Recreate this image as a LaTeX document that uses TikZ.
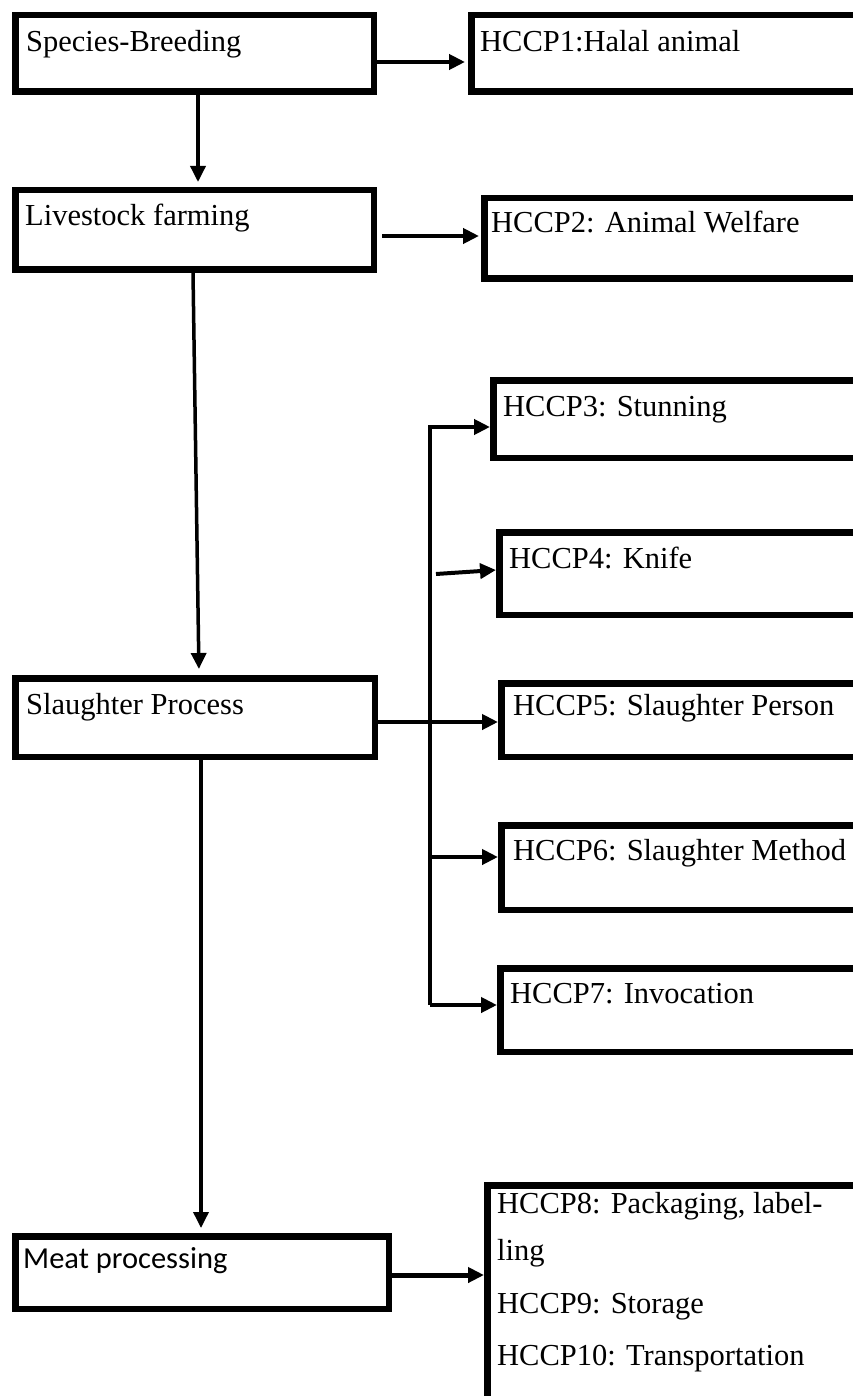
\documentclass[tikz,border=0pt]{standalone}
\usepackage{fontspec}
\setmainfont{Liberation Serif}
\newfontfamily\carlito{Carlito}
\usetikzlibrary{arrows.meta}

\begin{document}
\begin{tikzpicture}[x=1pt, y=-1pt,
  box/.style={draw, line width=6.5pt, inner sep=0pt},
  lbl/.style={anchor=base west, inner sep=0pt, font=\fontsize{30.5}{36}\selectfont},
  arr/.style={line width=4pt, -{Triangle[length=16pt, width=15pt]}},
  link/.style={line width=4pt}]

  % page
  \fill[white] (0,0) rectangle (853,1396);
  \useasboundingbox (0,0) rectangle (853,1396);

  % main chain of stages
  \node[box, minimum width=358.5pt, minimum height=76.5pt] (sb) at (194.5,53.5) {};
  \node[box, minimum width=358.5pt, minimum height=79.5pt] (lf) at (194.5,230) {};
  \node[box, minimum width=359.5pt, minimum height=78.5pt] (sp) at (195,717.5) {};
  \node[box, minimum width=373.5pt, minimum height=72.5pt] (mp) at (202,1272.5) {};

  \node[lbl] (sbt) at (26,52) {Species-Breeding};
  \node[lbl] (lft) at (25,226) {Livestock farming};
  \node[lbl] (spt) at (26,714) {Slaughter Process};
  \node[lbl, font=\carlito\fontsize{30.5}{36}\selectfont] (mpt) at (23,1268) {Meat processing};

  % control points
  \node[box, minimum width=405.5pt, minimum height=76.5pt] (h1) at (674,53.5) {};
  \node[box, minimum width=392.5pt, minimum height=80.5pt] (h2) at (680.5,238.5) {};
  \node[box, minimum width=383.5pt, minimum height=77.5pt] (h3) at (685,419) {};
  \node[box, minimum width=377.5pt, minimum height=82.5pt] (h4) at (688,573.5) {};
  \node[box, minimum width=375.5pt, minimum height=73.5pt] (h5) at (689,720) {};
  \node[box, minimum width=375.5pt, minimum height=84.5pt] (h6) at (689,867.5) {};
  \node[box, minimum width=376.5pt, minimum height=83.5pt] (h7) at (688.5,1010) {};
  \node[box, minimum width=389.5pt, minimum height=231.5pt] (h8) at (682,1301) {};

  \node[lbl] (h1t) at (480,52) {HCCP1:Halal animal};
  \node[lbl] (h2t) at (491,233) {HCCP2: Animal Welfare};
  \node[lbl] (h3t) at (503,416) {HCCP3: Stunning};
  \node[lbl] (h4t) at (509,568) {HCCP4: Knife};
  \node[lbl] (h5t) at (513,715) {HCCP5: Slaughter Person};
  \node[lbl] (h6t) at (513,860) {HCCP6: Slaughter Method};
  \node[lbl] (h7t) at (510,1003) {HCCP7: Invocation};
  \node[lbl] (h8a) at (497,1213) {HCCP8: Packaging, label-};
  \node[lbl] (h8b) at (497,1260) {ling};
  \node[lbl] (h8c) at (497,1313) {HCCP9: Storage};
  \node[lbl] (h8d) at (497,1365) {HCCP10: Transportation};

  % flow downwards
  \draw[arr, line width=3.5pt, shorten >=5pt] (sb.south -| 198,0) -- (lf.north -| 198,0);
  \draw[arr, line width=3.5pt, shorten >=6pt] (lf.south -| 193,0) -- (sp.north -| 199,0);
  \draw[arr, line width=3.5pt, shorten >=5pt] (sp.south -| 201,0) -- (mp.north -| 201,0);

  % links to control points
  \draw[arr, shorten >=3pt] (sb.east |- 0,62) -- (h1.west |- 0,62);
  \draw[arr, shorten <=5pt, shorten >=2pt] (lf.east |- 0,236) -- (h2.west |- 0,236);
  \draw[arr, line width=5pt] (mp.east |- 0,1275) -- (h8.west |- 0,1275);

  % slaughter branches
  \coordinate (ttop) at (430,427);
  \coordinate (tmid) at (430,722);
  \coordinate (tbot) at (430,1005);
  \coordinate (t4) at (436,574);
  \coordinate (t6) at (430,857);

  \draw[arr] (tbot) -- (ttop) -- (h3.west |- ttop);
  \draw[arr] (t4) -- (h4.west |- 0,570);
  \draw[arr] (sp.east |- tmid) -- (h5.west |- tmid);
  \draw[arr] (t6) -- (h6.west |- t6);
  \draw[arr] (tbot) -- (h7.west |- tbot);
\end{tikzpicture}
\end{document}
